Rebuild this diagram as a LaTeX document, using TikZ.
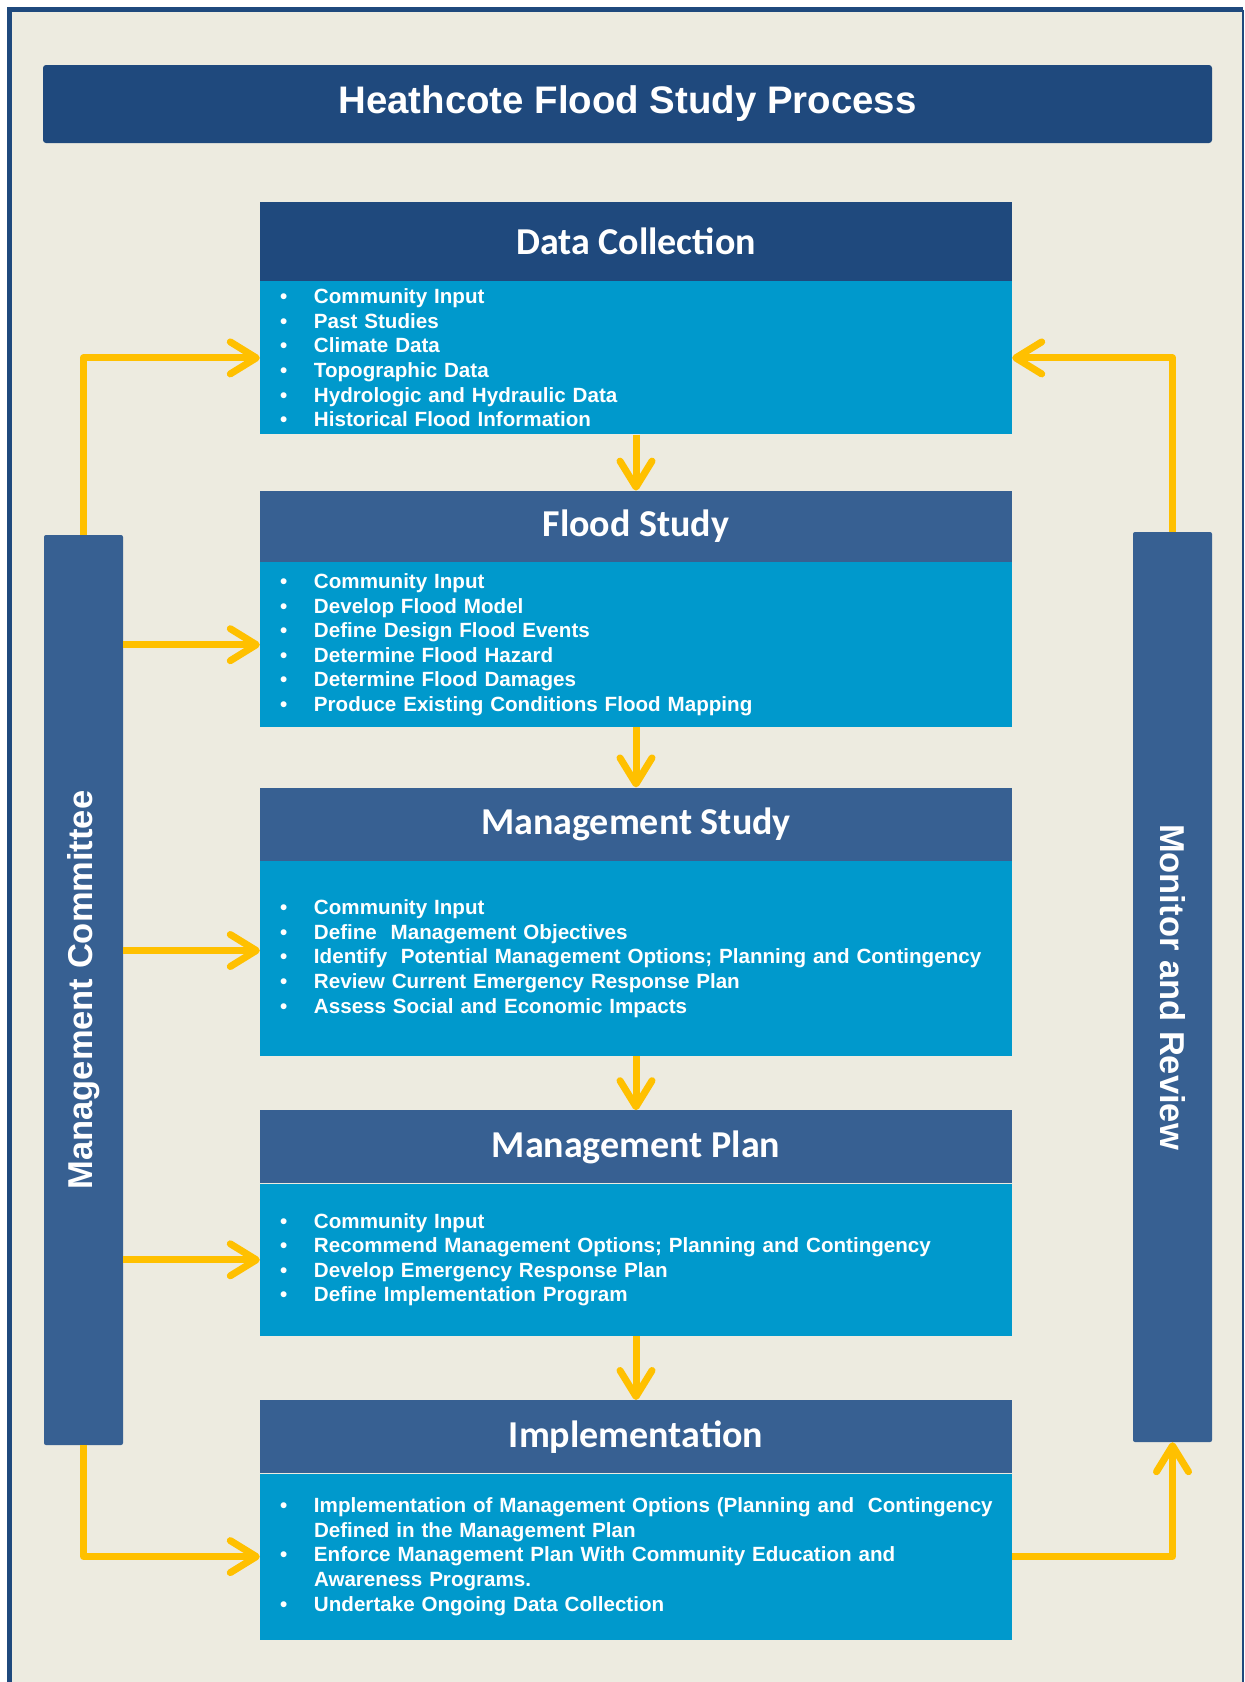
\documentclass[tikz,border=0pt]{standalone}
\usepackage{fontspec}
\setmainfont{Liberation Sans}
\newfontfamily\headfont{Carlito}
\usetikzlibrary{arrows.meta,positioning,calc}
\definecolor{FrameBlue}{HTML}{1F497D}
\definecolor{NavyBlue}{HTML}{1F497D}
\definecolor{SteelBlue}{HTML}{376092}
\definecolor{SkyBlue}{HTML}{0099CC}
\definecolor{Gold}{HTML}{FFC000}
\definecolor{Cream}{HTML}{EDEBE0}
\newcommand{\bitem}{\hspace*{20pt}\makebox[34pt][l]{\textbullet}}
\newcommand{\bcont}{\hspace*{54pt}}

\begin{document}
\begin{tikzpicture}[
    x=1pt, y=-1pt,
    font=\fontsize{20.6}{24.6}\selectfont\bfseries,
    headbox/.style={rectangle, fill=SteelBlue, text=white, font=\headfont\fontsize{38}{44}\selectfont\bfseries, minimum width=752pt, inner sep=0pt},
    itembox/.style={rectangle, fill=SkyBlue, text=white, align=left, text width=752pt, inner sep=0pt},
    sidebar/.style={rectangle, rounded corners=2pt, fill=SteelBlue, text=white, font=\fontsize{34.5}{40}\selectfont\bfseries, minimum width=79pt, minimum height=910pt, inner sep=0pt},
    arrow/.style={-{Straight Barb[length=26pt, width=32pt, round]}, line width=7pt, draw=Gold, line join=round}
]
\useasboundingbox (0,0) rectangle (1245,1682);
\fill[Cream] (10,10) rectangle (1243,1682);
\draw[FrameBlue, line width=5pt] (9.5,1682) -- (9.5,9.5) -- (1243,9.5);
\draw[FrameBlue, line width=2pt] (1243,9.5) -- (1243,1682);

\node[rectangle, rounded corners=3pt, fill=NavyBlue, text=white, font=\fontsize{38.4}{46}\selectfont\bfseries, minimum width=1169pt, minimum height=78pt] (title) at (627.5,104) {Heathcote Flood Study Process};

\node[headbox, fill=NavyBlue, minimum height=79pt] (dch) at (636,241.5) {Data Collection};
\node[itembox, minimum height=153pt, below=0pt of dch] (dcb) {\bitem Community Input\\
\bitem Past Studies\\
\bitem Climate Data\\
\bitem Topographic Data\\
\bitem Hydrologic and Hydraulic Data\\
\bitem Historical Flood Information};

\node[headbox, minimum height=71pt, below=56pt of dcb] (fsh) {Flood Study};
\node[itembox, minimum height=165pt, below=0pt of fsh] (fsb) {\bitem Community Input\\
\bitem Develop Flood Model\\
\bitem Define Design Flood Events\\
\bitem Determine Flood Hazard\\
\bitem Determine Flood Damages\\
\bitem Produce Existing Conditions Flood Mapping};

\node[headbox, minimum height=73pt, below=60pt of fsb] (msh) {Management Study};
\node[itembox, minimum height=195pt, below=0pt of msh] (msb) {\bitem Community Input\\
\bitem Define~ Management Objectives\\
\bitem Identify~ Potential Management Options; Planning and Contingency\\
\bitem Review Current Emergency Response Plan\\
\bitem Assess Social and Economic Impacts};

\node[headbox, minimum height=73pt, below=54pt of msb] (mph) {Management Plan};
\node[itembox, minimum height=152pt, below=0pt of mph] (mpb) {\bitem Community Input\\
\bitem Recommend Management Options; Planning and Contingency\\
\bitem Develop Emergency Response Plan\\
\bitem Define Implementation Program};

\node[headbox, minimum height=73pt, below=64pt of mpb] (imh) {Implementation};
\node[itembox, minimum height=166pt, below=0pt of imh] (imb) {\bitem Implementation of Management Options (Planning and~ Contingency\\
\bcont Defined in the Management Plan\\
\bitem Enforce Management Plan With Community Education and\\
\bcont Awareness Programs.\\
\bitem Undertake Ongoing Data Collection};

\node[sidebar] (mc) at (83.5,990) {\rotatebox{90}{Management Committee}};
\node[sidebar] (mr) at (1172.5,987) {\rotatebox{-90}{Monitor and Review}};

\draw[arrow] (dcb) -- (fsh);
\draw[arrow] (fsb) -- (msh);
\draw[arrow] (msb) -- (mph);
\draw[arrow] (mpb) -- (imh);

\draw[arrow] (mc.north) |- (dcb.west);
\draw[arrow] (mr.north) |- (dcb.east);
\draw[arrow] (mc.east |- fsb.west) -- (fsb.west);
\draw[arrow] ($(mc.east |- msb.west)+(0,-8)$) -- ($(msb.west)+(0,-8)$);
\draw[arrow] (mc.east |- mpb.west) -- (mpb.west);
\draw[arrow] (mc.south) |- (imb.west);
\draw[arrow] (imb.east) -| (mr.south);
\end{tikzpicture}
\end{document}
